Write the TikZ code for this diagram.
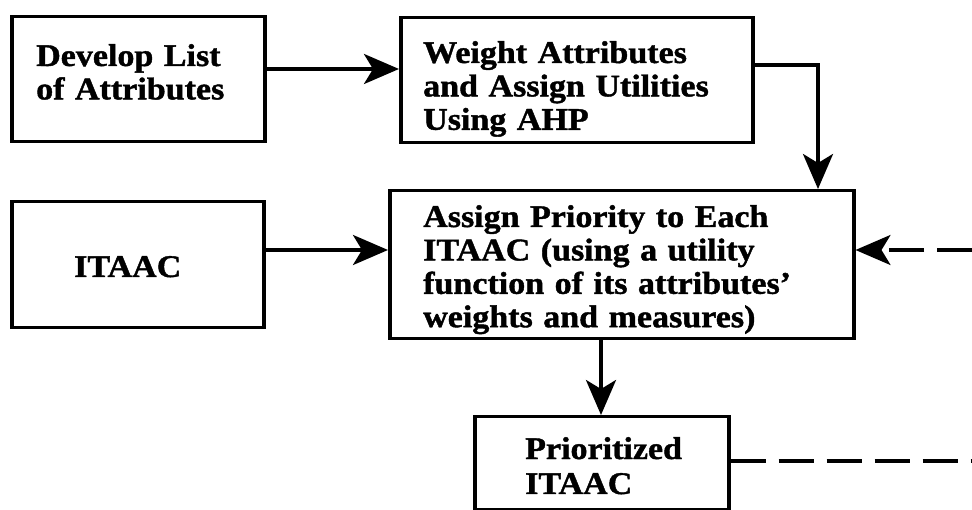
\documentclass[tikz,border=0pt]{standalone}
\usepackage{fontspec}
\newfontfamily\diafont{Liberation Serif Bold}[FakeStretch=1.08,FakeBold=1.3]
\usetikzlibrary{arrows.meta}
\begin{document}
\begin{tikzpicture}[x=1pt,y=-1pt,
  box/.style={draw, line width=3.5pt, rectangle, anchor=north west, inner sep=0pt},
  txt/.style={anchor=base west, inner sep=0pt, align=left, text width=#1,
    font=\fontsize{31.5}{33.4}\selectfont\diafont},
  conn/.style={line width=3.5pt, -{Stealth[length=35pt,width=30pt,inset=9pt]}},
  dashline/.style={line width=3.5pt, dash pattern=on 35pt off 13pt}]
\useasboundingbox (0,0) rectangle (972,510);
% boxes
\node[box, minimum width=253pt, minimum height=125pt] (b1) at (10,15) {};
\node[box, minimum width=352pt, minimum height=125pt] (b2) at (399,16) {};
\node[box, minimum width=252pt, minimum height=126pt] (b3) at (10,200) {};
\node[box, minimum width=464pt, minimum height=148pt] (b4) at (388,189) {};
\node[box, minimum width=254pt, minimum height=93pt] (b5) at (473,415) {};
% texts
\node[txt=220pt] (t1) at (36,66) {Develop List\\of Attributes};
\node[txt=330pt] (t2) at (423,63) {Weight Attributes\\and Assign Utilities\\Using AHP};
\node[txt=180pt] (t3) at (74,277) {ITAAC};
\node[txt=425pt] (t4) at (423,227) {Assign Priority to Each\\ITAAC (using a utility\\function of its attributes’\\weights and measures)};
\node[txt=200pt] (t5) at (525,459) {Prioritized\\[1.6pt]ITAAC};
% connectors
\coordinate (c1) at (818,65);
\coordinate (r1) at (972,250);
\coordinate (r2) at (972,461);
\draw[conn] (b1.east |- 0,69) -- (b2.west |- 0,69);
\draw[conn] (b2.east |- c1) -- (c1) -- (c1 |- b4.north);
\draw[conn] (b3.east |- r1) -- (b4.west |- r1);
\draw[dashline, -{Stealth[length=35pt,width=30pt,inset=9pt]}] (r1) -- (b4.east |- r1);
\draw[conn] (b4.south -| 601,0) -- (b5.north -| 601,0);
\draw[dashline] (b5.east |- r2) -- (r2);
\end{tikzpicture}
\end{document}
